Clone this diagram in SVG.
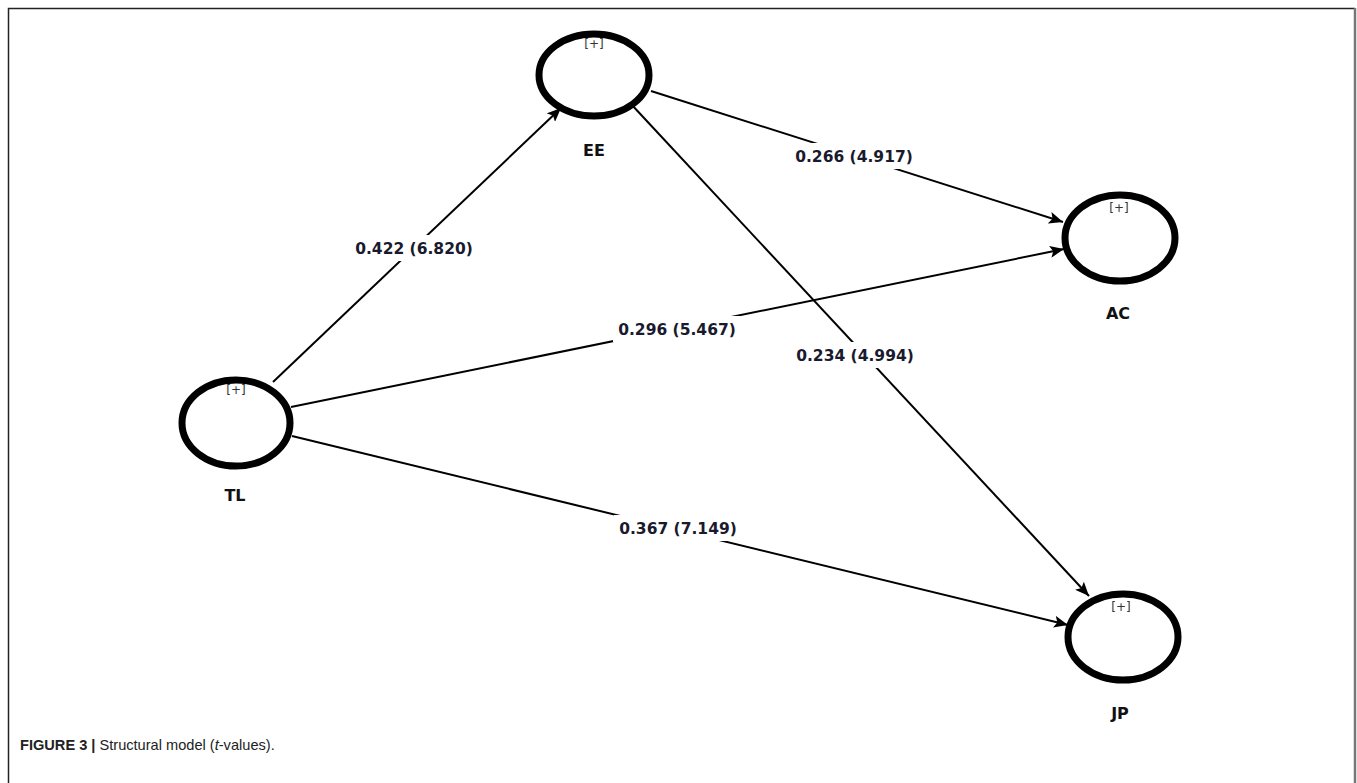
<svg xmlns="http://www.w3.org/2000/svg" width="1357" height="783" viewBox="0 0 1357 783">
  <style>
    .node { fill: none; stroke: #000; stroke-width: 7; }
    .plus { font-family: "DejaVu Sans", sans-serif; font-size: 12px; fill: #333; text-anchor: middle; }
    .name { font-family: "DejaVu Sans", sans-serif; font-size: 16px; font-weight: bold; fill: #111; text-anchor: middle; }
    .edge { stroke: #000; stroke-width: 2; fill: none; marker-end: url(#arrow); }
    .elabel { font-family: "DejaVu Sans", sans-serif; font-size: 15.5px; font-weight: bold; fill: #1a1a2e; text-anchor: middle; }
    .lbg { fill: #fff; }
    .cap { font-family: "Liberation Sans", Arial, sans-serif; font-size: 14.6px; fill: #222; }
  </style>
  <defs>
    <marker id="arrow" viewBox="0 0 14 12" refX="14" refY="6" markerWidth="14" markerHeight="12" markerUnits="userSpaceOnUse" orient="auto">
      <path d="M0,0 L14,6 L0,12 L3,6 z" fill="#000"/>
    </marker>
  </defs>
  <rect width="1357" height="783" fill="#fff"/>
  <!-- frame -->
  <path d="M8.5,783 V8.5 H1355" fill="none" stroke="#222" stroke-width="1.5"/>
  <line x1="1355" y1="8" x2="1355" y2="783" stroke="#777" stroke-width="2.5"/>

  <!-- connectors -->
  <g id="connectors">
    <line class="edge" x1="273" y1="382" x2="561" y2="108"/>
    <line class="edge" x1="651" y1="91" x2="1063" y2="222"/>
    <line class="edge" x1="291" y1="407" x2="1064" y2="249"/>
    <line class="edge" x1="631" y1="104" x2="1089" y2="596"/>
    <line class="edge" x1="292" y1="436" x2="1068" y2="625"/>
    <rect class="lbg" x="350" y="235" width="128" height="26"/>
    <text class="elabel" x="414" y="254">0.422 (6.820)</text>
    <rect class="lbg" x="790" y="143" width="128" height="26"/>
    <text class="elabel" x="854" y="162">0.266 (4.917)</text>
    <rect class="lbg" x="613" y="316" width="128" height="26"/>
    <text class="elabel" x="677" y="335">0.296 (5.467)</text>
    <rect class="lbg" x="791" y="342" width="128" height="26"/>
    <text class="elabel" x="855" y="361">0.234 (4.994)</text>
    <rect class="lbg" x="614" y="515" width="128" height="26"/>
    <text class="elabel" x="678" y="534">0.367 (7.149)</text>
  </g>

  <g id="EE">
    <ellipse class="node" cx="594" cy="75" rx="55" ry="41"/>
    <text class="plus" x="594" y="48">[+]</text>
    <text class="name" x="594" y="156">EE</text>
  </g>
  <g id="TL">
    <ellipse class="node" cx="236" cy="423" rx="54" ry="43"/>
    <text class="plus" x="236" y="394">[+]</text>
    <text class="name" x="235" y="501">TL</text>
  </g>
  <g id="AC">
    <ellipse class="node" cx="1120" cy="238" rx="55" ry="43"/>
    <text class="plus" x="1119" y="212">[+]</text>
    <text class="name" x="1118" y="319">AC</text>
  </g>
  <g id="JP">
    <ellipse class="node" cx="1123" cy="637" rx="55" ry="43"/>
    <text class="plus" x="1121" y="611">[+]</text>
    <text class="name" x="1120" y="719">JP</text>
  </g>

  <text class="cap" x="20" y="750"><tspan font-weight="bold">FIGURE 3 |</tspan> Structural model (<tspan font-style="italic">t</tspan>-values).</text>
</svg>
